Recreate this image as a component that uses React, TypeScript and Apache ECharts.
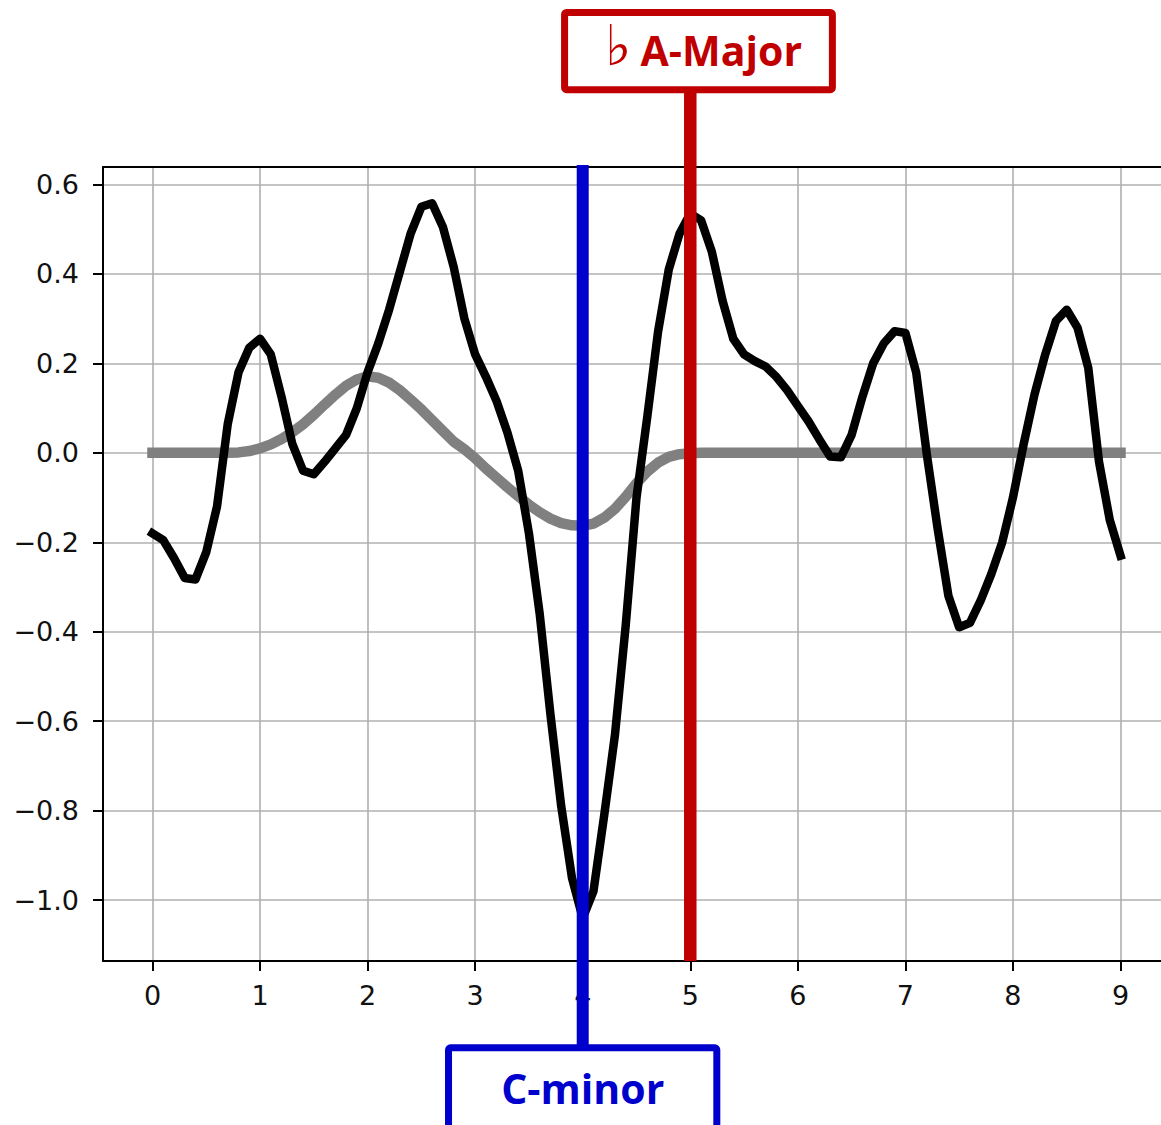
import React, { useEffect, useRef } from 'react';
import * as echarts from 'echarts';

// Sample positions along the x axis
const X_VALUES = [
  0.0, 0.1, 0.2, 0.3, 0.4, 0.5, 0.6, 0.7, 0.8, 0.9,
  1.0, 1.1, 1.2, 1.3, 1.4, 1.5, 1.6, 1.7, 1.8, 1.9,
  2.0, 2.1, 2.2, 2.3, 2.4, 2.5, 2.6, 2.7, 2.8, 2.9,
  3.0, 3.1, 3.2, 3.3, 3.4, 3.5, 3.6, 3.7, 3.8, 3.9,
  4.0, 4.1, 4.2, 4.3, 4.4, 4.5, 4.6, 4.7, 4.8, 4.9,
  5.0, 5.1, 5.2, 5.3, 5.4, 5.5, 5.6, 5.7, 5.8, 5.9,
  6.0, 6.1, 6.2, 6.3, 6.4, 6.5, 6.6, 6.7, 6.8, 6.9,
  7.0, 7.1, 7.2, 7.3, 7.4, 7.5, 7.6, 7.7, 7.8, 7.9,
  8.0, 8.1, 8.2, 8.3, 8.4, 8.5, 8.6, 8.7, 8.8, 8.9,
  9.0,
];

// Black signal
const SIGNAL_VALUES = [
  -0.18, -0.195, -0.235, -0.28, -0.283, -0.222, -0.12, 0.065, 0.18, 0.235,
  0.255, 0.22, 0.125, 0.02, -0.04, -0.048, -0.02, 0.01, 0.04, 0.1,
  0.18, 0.245, 0.32, 0.405, 0.49, 0.55, 0.558, 0.505, 0.416, 0.3,
  0.22, 0.17, 0.115, 0.045, -0.04, -0.18, -0.36, -0.585, -0.79, -0.95,
  -1.04, -0.98, -0.81, -0.63, -0.385, -0.1, 0.08, 0.27, 0.41, 0.49,
  0.535, 0.52, 0.45, 0.34, 0.255, 0.22, 0.205, 0.193, 0.17, 0.14,
  0.105, 0.07, 0.03, -0.008, -0.01, 0.04, 0.125, 0.2, 0.245, 0.272,
  0.268, 0.18, -0.005, -0.17, -0.32, -0.39, -0.38, -0.33, -0.27, -0.2,
  -0.1, 0.02, 0.13, 0.22, 0.295, 0.32, 0.28, 0.19, -0.02, -0.15,
  -0.23,
];

// Gray wavelet
const WAVELET_VALUES = [
  0, 0, 0, 0, 0, 0, 0, 0.0, 0.001, 0.004,
  0.01, 0.019, 0.031, 0.046, 0.064, 0.085, 0.108, 0.13, 0.15, 0.164,
  0.171, 0.168, 0.157, 0.14, 0.119, 0.097, 0.073, 0.049, 0.025, 0.008,
  -0.012, -0.035, -0.056, -0.077, -0.097, -0.116, -0.133, -0.147, -0.157, -0.162,
  -0.163, -0.158, -0.145, -0.125, -0.098, -0.068, -0.042, -0.022, -0.009, -0.003,
  -0.001, 0, 0, 0, 0, 0, 0, 0, 0, 0,
  0, 0, 0, 0, 0, 0, 0, 0, 0, 0,
  0, 0, 0, 0, 0, 0, 0, 0, 0, 0,
  0, 0, 0, 0, 0, 0, 0, 0, 0, 0,
  0,
];

const X_TICKS = [0, 1, 2, 3, 4, 5, 6, 7, 8, 9];
const Y_TICKS = [-1.0, -0.8, -0.6, -0.4, -0.2, 0.0, 0.2, 0.4, 0.6];

const KEY_NAMES = ['C-minor', 'A-Major'];
const KEY_POSITIONS = [4, 5];
const FLAT_SIGN = '\u266D';

const BLUE = '#0000cc';
const RED = '#c00000';

function inTicks(v: number, ticks: number[]) {
  return ticks.some((t) => Math.abs(t - v) < 1e-6);
}

export default function App() {
  const ref = useRef<HTMLDivElement>(null);

  useEffect(() => {
    if (!ref.current) return;
    const chart = echarts.init(ref.current, null, { renderer: 'svg' });
    const axisFont = { fontFamily: 'DejaVu Sans', fontSize: 27, color: '#111111' };
    const gridLine = { show: true, lineStyle: { color: '#b0b0b0', width: 1.6 } };
    const axisLine = { show: true, onZero: false, lineStyle: { color: '#000', width: 2 } };
    const axisTick = { show: true, length: 10, lineStyle: { color: '#000', width: 2 } };

    chart.setOption({
      animation: false,
      backgroundColor: '#ffffff',
      grid: {
        left: 103,
        top: 167,
        right: -9,
        bottom: 164,
        containLabel: false,
        outerBoundsMode: 'none',
        show: false,
      },
      xAxis: {
        type: 'value',
        min: -0.46,
        max: 9.46,
        minInterval: 1,
        maxInterval: 1,
        axisLine,
        axisTick,
        axisLabel: {
          ...axisFont,
          margin: 21,
          showMinLabel: false,
          showMaxLabel: false,
          formatter: (v: number) => (inTicks(v, X_TICKS) ? String(Math.round(v)) : ''),
        },
        splitLine: gridLine,
      },
      yAxis: {
        type: 'value',
        min: -1.136,
        max: 0.639,
        minInterval: 0.2,
        maxInterval: 0.2,
        axisLine,
        axisTick,
        axisLabel: {
          ...axisFont,
          margin: 24,
          showMinLabel: false,
          showMaxLabel: false,
          formatter: (v: number) =>
            inTicks(v, Y_TICKS) ? v.toFixed(1).replace('-', '\u2212') : '',
        },
        splitLine: gridLine,
      },
      series: [
        {
          type: 'line',
          data: X_VALUES.map((x, i) => [x, WAVELET_VALUES[i]]),
          showSymbol: false,
          symbol: 'none',
          silent: true,
          z: 2,
          lineStyle: { color: '#808080', width: 10.5, cap: 'square', join: 'round' },
        },
        {
          type: 'line',
          data: X_VALUES.map((x, i) => [x, SIGNAL_VALUES[i]]),
          showSymbol: false,
          symbol: 'none',
          silent: true,
          z: 3,
          lineStyle: { color: '#000000', width: 8.5, cap: 'square', join: 'round' },
        },
      ],
    });

    const bx = chart.convertToPixel({ gridIndex: 0 }, [KEY_POSITIONS[0], 0])[0];
    const rx = chart.convertToPixel({ gridIndex: 0 }, [KEY_POSITIONS[1], 0])[0];
    const topY = chart.convertToPixel({ gridIndex: 0 }, [0, 0.639])[1];
    const leftX = chart.convertToPixel({ gridIndex: 0 }, [-0.46, 0])[0];

    chart.setOption({
      graphic: [
        {
          type: 'line',
          z: 50,
          shape: { x1: leftX - 1, y1: topY, x2: 1170, y2: topY },
          style: { stroke: '#000000', lineWidth: 2 },
        },
        {
          type: 'line',
          z: 100,
          shape: { x1: bx, y1: 165, x2: bx, y2: 1047 },
          style: { stroke: BLUE, lineWidth: 12 },
        },
        {
          type: 'rect',
          z: 101,
          shape: { x: bx - 134.2, y: 1047.8, width: 268.3, height: 110, r: 2 },
          style: { fill: '#ffffff', stroke: BLUE, lineWidth: 7 },
        },
        {
          type: 'text',
          z: 102,
          x: bx,
          y: 1088.3,
          style: {
            text: KEY_NAMES[0],
            fill: BLUE,
            fontFamily: 'Open Sans',
            fontWeight: 'bold',
            fontSize: 41,
            align: 'center',
            verticalAlign: 'middle',
          },
        },
        {
          type: 'line',
          z: 100,
          shape: { x1: rx, y1: 93, x2: rx, y2: 961 },
          style: { stroke: RED, lineWidth: 12.5 },
        },
        {
          type: 'rect',
          z: 101,
          shape: { x: rx - 125.7, y: 12.5, width: 267.8, height: 77.2, r: 2 },
          style: { fill: '#ffffff', stroke: RED, lineWidth: 7 },
        },
        {
          type: 'text',
          z: 102,
          x: rx - 72,
          y: 45,
          style: {
            text: FLAT_SIGN,
            fill: RED,
            fontFamily: 'DejaVu Sans',
            fontSize: 56,
            align: 'center',
            verticalAlign: 'middle',
          },
        },
        {
          type: 'text',
          z: 102,
          x: rx - 49.7,
          y: 50,
          style: {
            text: KEY_NAMES[1],
            fill: RED,
            fontFamily: 'Open Sans',
            fontWeight: 'bold',
            fontSize: 41,
            align: 'left',
            verticalAlign: 'middle',
          },
        },
      ],
    });

    return () => chart.dispose();
  }, []);

  return (
    <div
      ref={ref}
      style={{ position: 'absolute', left: 0, top: 0, width: 1161, height: 1125 }}
    />
  );
}
